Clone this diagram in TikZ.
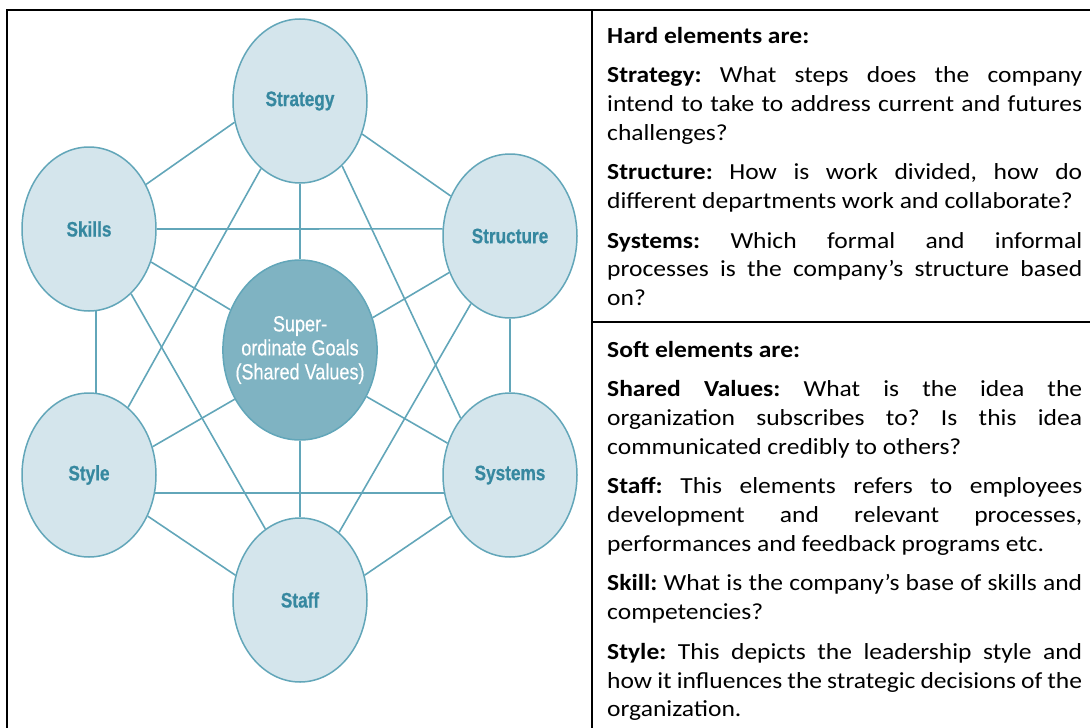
\documentclass[tikz,border=0pt]{standalone}
\usepackage{fontspec}
\setmainfont[FakeStretch=1.11]{Carlito}
\newfontfamily\narrowfont[FakeStretch=0.82,BoldFeatures={FakeBold=0.6}]{Liberation Sans}
\newfontfamily\corefont[FakeStretch=0.82,FakeBold=0.4]{Liberation Sans}
\usetikzlibrary{shapes.geometric}

\definecolor{sevenfill}{RGB}{212,229,236}
\definecolor{sevenline}{RGB}{98,166,185}
\definecolor{sevencore}{RGB}{127,179,194}
\definecolor{seventext}{RGB}{54,136,160}

\newcommand{\cellsetup}{\parindent=0pt\parskip=11pt\frenchspacing\hyphenpenalty=10000\exhyphenpenalty=10000}

\tikzset{
    %Define style for the six elements
    element/.style={
           ellipse,
           draw=sevenline, line width=1.5pt,
           fill=sevenfill,
           minimum width=134pt,
           minimum height=164pt,
           inner sep=0pt,
           font=\narrowfont\bfseries\fontsize{21}{24}\selectfont,
           text=seventext,
           text centered,
           },
    %Define style for the shared values
    core/.style={
           element,
           fill=sevencore,
           minimum width=146pt,
           minimum height=180pt,
           inner xsep=-10pt,
           font=\corefont\fontsize{22}{24}\selectfont,
           text=white,
           align=center,
           },
    % Define link style
    link/.style={
           draw=sevenline,
           line width=1.6pt,},
    % Define style for the table text
    cell/.style={
           anchor=base west,
           text width=475pt,
           align=justify,
           inner sep=0pt,
           font=\fontsize{23}{28.7}\selectfont,
           },
    rule/.style={line width=2pt}
}

\begin{document}
\begin{tikzpicture}[x=1pt,y=-1pt]
\useasboundingbox (0,0) rectangle (1090,728);
% table
\draw[rule] (7,728) -- (7,10) -- (1090,10);
\draw[rule] (592,10) -- (592,728);
\draw[rule] (592,322) -- (1090,322);
% the seven S
\node[core](core) at (300,350){Super-\\ordinate Goals\\(Shared Values)};
\node[element](strategy) at (300,101){Strategy};
\node[element](skills) at (89,229){Skills};
\node[element](structure) at (510,236){Structure};
\node[element](style) at (89,475){Style};
\node[element](systems) at (510,475){Systems};
\node[element](staff) at (300,600){Staff};
\path[link]
	(strategy.198) edge (skills.38)
	(strategy.-28) edge (structure.146)
	(strategy.south) edge (core.north)
	(strategy.240) edge (style.60)
	(strategy.-57) edge (systems.131)
	(skills.east) edge (structure.174)
	(skills.-28) edge (core.150)
	(skills.-57) edge (staff.116)
	(skills.-85) edge (style.85)
	(structure.211) edge (core.24)
	(structure.240) edge (staff.60)
	(structure.south) edge (systems.north)
	(core.217) edge (style.24)
	(core.-35) edge (systems.153)
	(core.south) edge (staff.north)
	(style.-15) edge (systems.195)
	(style.-35) edge (staff.159)
	(systems.215) edge (staff.21);
% text cells
\node[cell](hard) at (607,43){\cellsetup
\textbf{Hard elements are:}\par
\textbf{Strategy:} What steps does the company\linebreak intend to take to address current and futures\linebreak challenges?\par
\textbf{Structure:} How is work divided, how do\linebreak different departments work and collaborate?\par
\textbf{Systems:} Which formal and informal\linebreak processes is the company’s structure based\linebreak on?};
\node[cell](soft) at (607,357){\cellsetup
\textbf{Soft elements are:}\par
\textbf{Shared Values:} What is the idea the\linebreak organization subscribes to? Is this idea\linebreak communicated credibly to others?\par
\textbf{Staff:} This elements refers to employees\linebreak development and relevant processes,\linebreak performances and feedback programs etc.\par
\textbf{Skill:} What is the company’s base of skills and\linebreak competencies?\par
\textbf{Style:} This depicts the leadership style and\linebreak how it influences the strategic decisions of the\linebreak organization.};
\end{tikzpicture}
\end{document}
